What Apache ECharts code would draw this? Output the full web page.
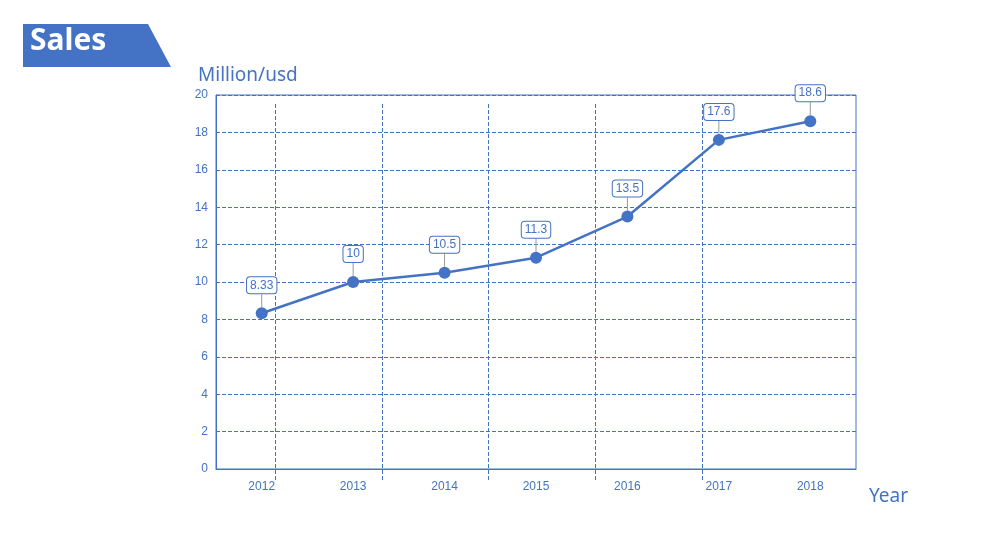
<!DOCTYPE html>
<html><head><meta charset="utf-8">
<script src="https://cdn.jsdelivr.net/npm/echarts@6/dist/echarts.min.js"></script>
<style>body{margin:0}#main{width:1003px;height:553px}</style>
</head><body><div id="main"></div>
<script>
var years = ['2012', '2013', '2014', '2015', '2016', '2017', '2018'];
var sales = [8.33, 10, 10.5, 11.3, 13.5, 17.6, 18.6];
var blue = '#4472C4';
var font = 'Microsoft YaHei, Noto Sans, sans-serif';

var chart = echarts.init(document.getElementById('main'));
chart.setOption({
  animation: false,
  graphic: [
    { type: 'polygon', shape: { points: [[23, 24], [148, 24], [171, 67], [23, 67]] }, style: { fill: blue } },
    { type: 'text', left: 30, top: 26, style: { text: 'Sales', fill: '#fff', font: 'bold 30px ' + font } },
    { type: 'text', left: 198, top: 66, style: { text: 'Million/usd', fill: blue, font: '19px ' + font } },
    { type: 'text', left: 869, top: 487, style: { text: 'Year', fill: blue, font: '19px ' + font } }
  ],
  grid: [
    { left: 216, right: 147, top: 95, bottom: 84, show: true, borderColor: blue, borderWidth: 1 },
    { left: 275, right: 301, top: 104, bottom: 71 }
  ],
  xAxis: [
    { type: 'category', data: years, gridIndex: 0,
      axisLine: { lineStyle: { color: blue } }, axisTick: { show: false },
      axisLabel: { color: blue, fontSize: 12, margin: 12 } },
    { type: 'value', gridIndex: 1, min: 1, max: 5, interval: 1,
      axisLine: { show: false }, axisTick: { show: false }, axisLabel: { show: false },
      splitLine: { lineStyle: { color: blue, type: 'dashed', width: 1 } } }
  ],
  yAxis: [
    { type: 'value', gridIndex: 0, min: 0, max: 20, interval: 2,
      axisLine: { show: true, lineStyle: { color: blue } }, axisTick: { show: false },
      axisLabel: { color: blue, fontSize: 12, margin: 8 },
      splitLine: { lineStyle: { color: blue, type: 'dashed', width: 1 } } },
    { type: 'value', gridIndex: 1, show: false, splitLine: { show: false } }
  ],
  series: [{
    type: 'line', data: sales, xAxisIndex: 0, yAxisIndex: 0,
    symbol: 'circle', symbolSize: 12,
    lineStyle: { color: blue, width: 2.5 }, itemStyle: { color: blue },
    label: { show: true, position: 'top', distance: 8, color: blue, fontSize: 12,
      backgroundColor: '#fff', borderColor: blue, borderWidth: 1, borderRadius: 3,
      padding: [2, 3] },
    labelLayout: { dy: -6 },
    labelLine: { show: true, lineStyle: { color: '#999', width: 1 } }
  }]
});
</script></body></html>
